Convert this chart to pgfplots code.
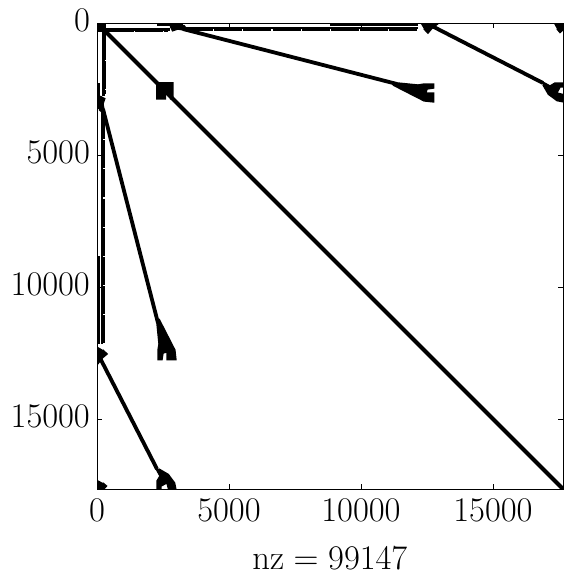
\documentclass[border=0pt]{standalone}
\usepackage{pgfplots}
\pgfplotsset{compat=1.18}
\usepackage{pgfplotstable}

% stroked lines of the upper triangle, nan breaks a segment
\pgfplotstableread{
i j
3258 227
11364 2311
nan nan
12614 76
16895 2273
}\slanted
\pgfplotstableread{
i j
341 240
2765 240
nan nan
2273 70
3258 70
nan nan
8826 50
12160 50
nan nan
3258 189
12160 189
}\rowsolid
\pgfplotstableread{
i j
341 300
2690 300
nan nan
3333 265
12160 265
}\rowdash
% filled clusters
\pgfplotstableread{
i j
11212 2254
12160 2349
12387 2311
12750 2311
12750 2462
12500 2500
12463 2652
12750 2652
12750 2990
12387 2950
11212 2349
nan nan
16819 2197
17160 2386
17349 2273
17728 2273
17728 2424
17539 2424
17420 2652
17728 2727
17728 3000
17425 2941
17100 2700
16895 2349
nan nan
12250 0
12950 0
12690 200
12538 380
12380 220
nan nan
17300 0
17652 0
17652 260
17539 360
17420 220
nan nan
2765 152
2992 50
3300 100
3460 303
3068 227
2841 303
}\clusters

\begin{document}
\begin{tikzpicture}
\useasboundingbox (-48.5pt,-44.5pt) rectangle (239.5pt,244.5pt);
\begin{axis}[
    scale only axis,
    width=233pt, height=233pt,
    xmin=0, xmax=17652, ymin=0, ymax=17652,
    y dir=reverse,
    xtick={0,5000,10000,15000}, ytick={0,5000,10000,15000},
    scaled ticks=false,
    /pgf/number format/1000 sep={},
    tick align=inside,
    major tick length=2.5pt,
    tick style={black, line width=0.4pt},
    axis line style={line width=0.5pt},
    tick label style={font=\fontsize{16.3}{18}\selectfont},
    xticklabel style={yshift=-1.5pt},
    yticklabel style={yshift=1.2pt},
    xlabel={$\mathrm{nz} = 99147$},
    xlabel style={font=\fontsize{16.3}{18}\selectfont, yshift=-6pt},
    unbounded coords=jump,
]
% block at the top left and dense block on the diagonal
\addplot[fill=black, draw=none] coordinates {(0,0)(341,0)(341,341)(0,341)};
\addplot[fill=black, draw=none] coordinates {(2240,2240)(2900,2240)(2900,2900)(2765,2900)(2765,2727)(2614,2727)(2614,2900)(2240,2900)};
% main diagonal
\addplot[black, line width=2.1pt] coordinates {(341,341)(17652,17652)};
% the pattern is symmetric, so each table goes in twice
\addplot[black, line width=1.9pt] table[x=i, y=j] {\slanted};
\addplot[black, line width=1.9pt] table[x=j, y=i] {\slanted};
\addplot[black, line width=1.4pt] table[x=i, y=j] {\rowsolid};
\addplot[black, line width=1.4pt] table[x=j, y=i] {\rowsolid};
\addplot[black, line width=1.3pt, dash pattern=on 14pt off 0.6pt] table[x=i, y=j] {\rowdash};
\addplot[black, line width=1.3pt, dash pattern=on 14pt off 0.6pt] table[x=j, y=i] {\rowdash};
\addplot[fill=black, draw=black, line width=0.7pt] table[x=i, y=j] {\clusters};
\addplot[fill=black, draw=black, line width=0.7pt] table[x=j, y=i] {\clusters};
\end{axis}
\end{tikzpicture}
\end{document}
